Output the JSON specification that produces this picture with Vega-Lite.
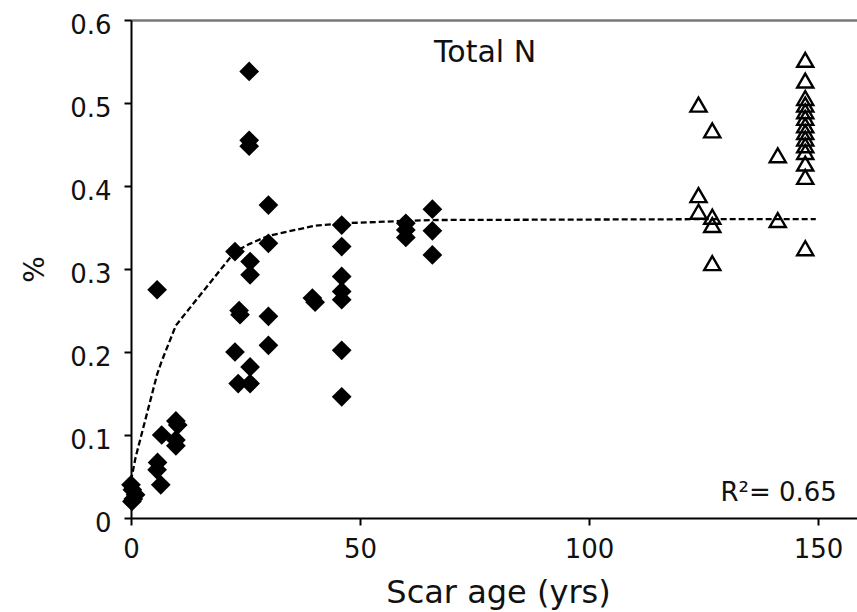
{
  "$schema": "https://vega.github.io/schema/vega-lite/v6.json",
  "width": 726,
  "height": 498,
  "autosize": {"type": "none"},
  "padding": {"left": 131, "top": 20, "right": 0, "bottom": 94},
  "background": "white",
  "config": {
    "view": {"stroke": null},
    "font": "DejaVu Sans",
    "axis": {"labelFont": "DejaVu Sans", "titleFont": "DejaVu Sans", "grid": false, "labelColor": "#111", "titleColor": "#111"}
  },
  "datasets": {
    "scar": [
      {"age": 0, "n": 0.040}, {"age": 0.3, "n": 0.034}, {"age": 1, "n": 0.028}, {"age": 0.5, "n": 0.023}, {"age": 0.2, "n": 0.020},
      {"age": 5.7, "n": 0.275},
      {"age": 5.8, "n": 0.067}, {"age": 5.7, "n": 0.058}, {"age": 6.5, "n": 0.040}, {"age": 6.7, "n": 0.100},
      {"age": 9.8, "n": 0.117}, {"age": 10.2, "n": 0.112}, {"age": 9.8, "n": 0.094}, {"age": 9.8, "n": 0.087},
      {"age": 22.7, "n": 0.321}, {"age": 22.7, "n": 0.200},
      {"age": 23.6, "n": 0.250}, {"age": 23.8, "n": 0.245}, {"age": 23.4, "n": 0.162},
      {"age": 25.8, "n": 0.538}, {"age": 25.8, "n": 0.455}, {"age": 25.8, "n": 0.448}, {"age": 26, "n": 0.309}, {"age": 26, "n": 0.293}, {"age": 26, "n": 0.182}, {"age": 26, "n": 0.162},
      {"age": 30, "n": 0.377}, {"age": 30, "n": 0.331}, {"age": 30, "n": 0.243}, {"age": 30, "n": 0.208},
      {"age": 39.6, "n": 0.265}, {"age": 40.2, "n": 0.260},
      {"age": 46, "n": 0.353}, {"age": 46, "n": 0.327}, {"age": 46, "n": 0.291}, {"age": 46, "n": 0.273}, {"age": 46, "n": 0.263}, {"age": 46, "n": 0.202}, {"age": 46, "n": 0.146},
      {"age": 60, "n": 0.355}, {"age": 60, "n": 0.347}, {"age": 60, "n": 0.338},
      {"age": 65.8, "n": 0.372}, {"age": 65.8, "n": 0.346}, {"age": 65.8, "n": 0.317}
    ],
    "ref": [
      {"age": 123.9, "n": 0.498}, {"age": 123.9, "n": 0.389}, {"age": 123.9, "n": 0.369},
      {"age": 126.9, "n": 0.467}, {"age": 126.9, "n": 0.363}, {"age": 126.9, "n": 0.353}, {"age": 126.9, "n": 0.307},
      {"age": 141.2, "n": 0.437}, {"age": 141.2, "n": 0.359},
      {"age": 147.2, "n": 0.552}, {"age": 147.2, "n": 0.527}, {"age": 147.2, "n": 0.506}, {"age": 147.2, "n": 0.498}, {"age": 147.2, "n": 0.490}, {"age": 147.2, "n": 0.482}, {"age": 147.2, "n": 0.473}, {"age": 147.2, "n": 0.465}, {"age": 147.2, "n": 0.457}, {"age": 147.2, "n": 0.449}, {"age": 147.2, "n": 0.441}, {"age": 147.2, "n": 0.427}, {"age": 147.2, "n": 0.411}, {"age": 147.2, "n": 0.325}
    ],
    "fit": [
      {"age": 0, "n": 0.045}, {"age": 1, "n": 0.073}, {"age": 5.7, "n": 0.173}, {"age": 6.7, "n": 0.189}, {"age": 9.8, "n": 0.232},
      {"age": 22.7, "n": 0.321}, {"age": 23.8, "n": 0.324}, {"age": 25.8, "n": 0.330}, {"age": 30, "n": 0.340}, {"age": 40, "n": 0.352},
      {"age": 46, "n": 0.355}, {"age": 60, "n": 0.358}, {"age": 65.8, "n": 0.359}, {"age": 123.9, "n": 0.360}, {"age": 126.9, "n": 0.360},
      {"age": 141.2, "n": 0.360}, {"age": 147.2, "n": 0.360}, {"age": 149.5, "n": 0.360}
    ],
    "title": [{"age": 77.3, "n": 0.549, "label": "Total N"}],
    "r2": [{"age": 154.1, "n": 0.021, "label": "R²= 0.65"}]
  },
  "resolve": {"axis": {"x": "independent"}},
  "layer": [
    {
      "data": {"name": "fit"},
      "mark": {"type": "line", "color": "#000", "strokeWidth": 2.3, "strokeDash": [6, 3]},
      "encoding": {
        "x": {
          "field": "age", "type": "quantitative",
          "scale": {"domain": [0, 158.5], "nice": false, "zero": false},
          "axis": {
            "orient": "bottom", "values": [0, 50, 100, 150], "title": "Scar age (yrs)",
            "domainColor": "#000", "domainWidth": 2, "tickColor": "#000", "tickWidth": 2, "tickSize": 7,
            "labelFontSize": 26, "labelPadding": 11, "labelFlush": false,
            "titleFontSize": 32, "titleFontWeight": "normal", "titleX": 367, "titleY": 84, "titleBaseline": "alphabetic", "titleAlign": "center"
          }
        },
        "y": {
          "field": "n", "type": "quantitative",
          "scale": {"domain": [0, 0.6], "nice": false},
          "axis": {
            "values": [0, 0.1, 0.2, 0.3, 0.4, 0.5, 0.6], "format": ".1~f", "title": "%",
            "domainColor": "#000", "domainWidth": 2, "tickColor": "#000", "tickWidth": 2, "tickSize": 7,
            "labelFontSize": 26, "labelPadding": 13, "labelOffset": 5, "labelFlush": false,
            "titleFontSize": 28, "titleFontWeight": "normal", "titleAngle": -90, "titleX": -88, "titleY": 249, "titleBaseline": "alphabetic", "titleAlign": "center"
          }
        }
      }
    },
    {
      "data": {"name": "scar"},
      "mark": {"type": "point", "shape": "diamond", "filled": true, "color": "#000", "size": 390, "opacity": 1},
      "encoding": {
        "x": {"field": "age", "type": "quantitative", "axis": null},
        "y": {"field": "n", "type": "quantitative"}
      }
    },
    {
      "data": {"name": "ref"},
      "mark": {"type": "point", "shape": "triangle-up", "filled": false, "color": "#000", "size": 260, "strokeWidth": 2.4, "opacity": 1},
      "encoding": {
        "x": {
          "field": "age", "type": "quantitative",
          "axis": {"orient": "top", "labels": false, "ticks": false, "title": null, "domainColor": "#777", "domainWidth": 2.5}
        },
        "y": {"field": "n", "type": "quantitative"}
      }
    },
    {
      "data": {"name": "title"},
      "mark": {"type": "text", "font": "DejaVu Sans", "color": "#111", "baseline": "alphabetic", "align": "center", "fontSize": 30},
      "encoding": {
        "x": {"field": "age", "type": "quantitative", "axis": null},
        "y": {"field": "n", "type": "quantitative"},
        "text": {"field": "label"}
      }
    },
    {
      "data": {"name": "r2"},
      "mark": {"type": "text", "font": "DejaVu Sans", "color": "#111", "baseline": "alphabetic", "align": "right", "fontSize": 26},
      "encoding": {
        "x": {"field": "age", "type": "quantitative", "axis": null},
        "y": {"field": "n", "type": "quantitative"},
        "text": {"field": "label"}
      }
    }
  ]
}
